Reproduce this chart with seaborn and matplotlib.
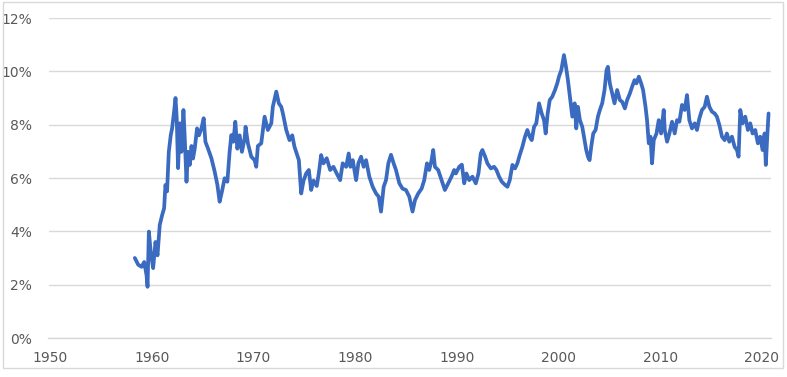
import matplotlib
matplotlib.use("Agg")
import matplotlib.pyplot as plt
import matplotlib.ticker as mticker
from matplotlib.patches import Rectangle
import pandas as pd
import seaborn as sns

# values (decimal year, percent)
years = [
    1958.34, 1958.67, 1959.0, 1959.26, 1959.49, 1959.59, 1959.72, 1959.91, 1960.14, 1960.37,
    1960.57, 1960.79, 1961.02, 1961.22, 1961.35, 1961.51, 1961.68, 1961.87, 1962.0, 1962.2,
    1962.34, 1962.46, 1962.59, 1962.76, 1962.92, 1963.12, 1963.25, 1963.42, 1963.57, 1963.74,
    1963.91, 1964.06, 1964.23, 1964.46, 1964.65, 1964.89, 1965.11, 1965.28, 1965.54, 1965.87,
    1966.19, 1966.46, 1966.68, 1966.91, 1967.17, 1967.44, 1967.66, 1967.83, 1968.03, 1968.22,
    1968.42, 1968.65, 1968.87, 1969.14,
    1969.23, 1969.46, 1969.79, 1970.12, 1970.28, 1970.44, 1970.77, 1971.1, 1971.42, 1971.76,
    1971.91, 1972.25, 1972.5, 1972.74, 1972.9, 1973.23, 1973.55, 1973.82, 1974.04, 1974.27,
    1974.47, 1974.7, 1974.93, 1975.19, 1975.45, 1975.68, 1975.91, 1976.23, 1976.43, 1976.66,
    1976.89, 1977.21, 1977.55, 1977.87, 1978.19, 1978.53, 1978.78, 1979.12, 1979.37,
    1979.54, 1979.77, 1980.1, 1980.32, 1980.59, 1980.84, 1981.08, 1981.4, 1981.73, 1982.06,
    1982.32, 1982.55, 1982.81, 1983.04, 1983.27, 1983.53, 1983.79, 1984.02, 1984.35, 1984.67,
    1985.0, 1985.33, 1985.65, 1985.89, 1986.21, 1986.54, 1986.8, 1987.07, 1987.29, 1987.52,
    1987.68, 1987.85, 1988.17, 1988.5, 1988.83, 1989.16, 1989.48, 1989.74,
    1989.91, 1990.24, 1990.5, 1990.73, 1990.95, 1991.22, 1991.54, 1991.87, 1992.13, 1992.36,
    1992.52, 1992.79, 1993.01, 1993.35, 1993.67, 1993.9, 1994.16, 1994.43, 1994.75, 1994.98,
    1995.21, 1995.47, 1995.73, 1995.96, 1996.19, 1996.45, 1996.71, 1996.94, 1997.17, 1997.37,
    1997.6, 1997.82, 1998.09, 1998.35, 1998.58, 1998.74, 1998.94, 1999.14, 1999.39, 1999.66,
    1999.88, 2000.05,
    2000.28, 2000.54, 2000.74, 2000.93, 2001.2, 2001.36, 2001.59, 2001.75, 2001.91, 2002.11,
    2002.34, 2002.57, 2002.73, 2002.9, 2003.06, 2003.22, 2003.42, 2003.65, 2003.88, 2004.07,
    2004.3, 2004.53, 2004.73, 2004.86, 2005.05, 2005.28, 2005.51, 2005.77, 2006.04, 2006.26,
    2006.53, 2006.75, 2007.02, 2007.24, 2007.48, 2007.67, 2007.9, 2008.13, 2008.32, 2008.56,
    2008.71, 2008.88, 2009.05, 2009.2, 2009.37, 2009.64, 2009.86, 2010.09, 2010.35,
    2010.45, 2010.68, 2010.91, 2011.17, 2011.43, 2011.66, 2011.89, 2012.15, 2012.41, 2012.64,
    2012.87, 2013.13, 2013.4, 2013.62, 2013.86, 2014.11, 2014.38, 2014.6, 2014.84, 2015.09,
    2015.36, 2015.58, 2015.82, 2016.08, 2016.34, 2016.56, 2016.8, 2017.06, 2017.32, 2017.55,
    2017.71, 2017.88, 2018.11, 2018.37, 2018.63, 2018.86, 2019.09, 2019.35, 2019.61, 2019.84,
    2020.07, 2020.27, 2020.39, 2020.53, 2020.66,
]
rates = [
    3.0, 2.75, 2.67, 2.85, 2.36, 1.92, 3.99, 3.2, 2.62, 3.6,
    3.1, 4.24, 4.6, 4.87, 5.74, 5.5, 6.98, 7.6, 7.85, 8.49,
    9.0, 8.25, 6.37, 8.05, 6.98, 8.55, 7.49, 5.86, 6.98, 6.49,
    7.2, 6.73, 7.1, 7.86, 7.6, 7.86, 8.24, 7.36, 7.1, 6.74,
    6.24, 5.74, 5.11, 5.5, 5.99, 5.86, 6.98, 7.61, 7.36, 8.11,
    7.1, 7.6, 6.98, 7.49,
    7.92, 7.3, 6.8, 6.67, 6.42, 7.2, 7.3, 8.3, 7.8, 8.05,
    8.67, 9.24, 8.8, 8.67, 8.42, 7.8, 7.42, 7.6, 7.17, 6.9,
    6.67, 5.42, 5.9, 6.17, 6.3, 5.55, 5.9, 5.7, 6.17, 6.86,
    6.55, 6.74, 6.3, 6.42, 6.17, 5.92, 6.55, 6.42, 6.92,
    6.42, 6.67, 5.92, 6.55, 6.8, 6.42, 6.67, 6.05, 5.67, 5.42,
    5.3, 4.74, 5.67, 5.92, 6.55, 6.87, 6.55, 6.3, 5.8, 5.6,
    5.55, 5.3, 4.74, 5.17, 5.42, 5.6, 5.92, 6.55, 6.3, 6.67,
    7.05, 6.42, 6.3, 5.92, 5.55, 5.8, 6.05, 6.3,
    6.17, 6.42, 6.5, 5.8, 6.17, 5.92, 6.05, 5.8, 6.17, 6.92,
    7.05, 6.8, 6.55, 6.36, 6.42, 6.3, 6.05, 5.86, 5.74, 5.67,
    5.92, 6.49, 6.36, 6.55, 6.86, 7.17, 7.55, 7.8, 7.55, 7.42,
    7.92, 8.05, 8.8, 8.42, 8.17, 7.67, 8.42, 8.92, 9.05, 9.3,
    9.55, 9.8,
    10.05, 10.61, 10.17, 9.67, 8.8, 8.3, 8.8, 7.86, 8.67, 8.17,
    7.92, 7.42, 7.05, 6.8, 6.67, 7.17, 7.67, 7.8, 8.3, 8.55,
    8.8, 9.3, 10.05, 10.17, 9.55, 9.17, 8.8, 9.3, 8.92, 8.86,
    8.61, 8.92, 9.17, 9.42, 9.67, 9.55, 9.8, 9.55, 9.3, 8.67,
    8.17, 7.3, 7.55, 6.55, 7.42, 7.67, 8.17, 7.67, 8.55,
    7.8, 7.36, 7.67, 8.11, 7.67, 8.17, 8.11, 8.74, 8.55, 9.11,
    8.17, 7.86, 8.05, 7.8, 8.24, 8.55, 8.67, 9.05, 8.67, 8.49,
    8.42, 8.3, 7.99, 7.55, 7.42, 7.67, 7.36, 7.55, 7.17, 7.05,
    6.8, 8.55, 8.05, 8.3, 7.8, 8.05, 7.67, 7.8, 7.3, 7.55,
    7.05, 7.67, 6.49, 7.55, 8.42,
]
y_ticks = [0, 2, 4, 6, 8, 10, 12]
x_ticks = [1950, 1960, 1970, 1980, 1990, 2000, 2010, 2020]

df = pd.DataFrame({"year": years, "rate": rates})

sns.set_style("white")
plt.rcParams["font.family"] = ["Liberation Sans Narrow", "DejaVu Sans"]

fig = plt.figure(figsize=(7.87, 3.77), dpi=100)
ax = fig.add_axes([48.5 / 787, 39 / 377, 722.5 / 787, 320 / 377])

sns.lineplot(data=df, x="year", y="rate", ax=ax, color="#3A6BC0", linewidth=2.7)

ax.set_xlim(1949.85, 2020.9)
ax.set_ylim(0, 12)
ax.set_xticks(x_ticks)
ax.set_yticks(y_ticks)
ax.yaxis.set_major_formatter(mticker.FuncFormatter(lambda v, p: f"{v:.0f}%"))
ax.set_xlabel("")
ax.set_ylabel("")

ax.yaxis.grid(True, color="#d9d9d9", linewidth=1)
ax.set_axisbelow(True)
for s in ["top", "right", "left"]:
    ax.spines[s].set_visible(False)
ax.spines["bottom"].set_color("#d9d9d9")
ax.spines["bottom"].set_linewidth(1)
ax.tick_params(axis="x", direction="out", length=5, color="#d9d9d9", width=1,
               labelsize=10, labelcolor="#595959", pad=4)
ax.tick_params(axis="y", length=0, labelsize=10, labelcolor="#595959", pad=12)

# light chart-area border
fig.patches.append(Rectangle((3 / 787, 9 / 377), 780 / 787, 366 / 377, transform=fig.transFigure,
                             fill=False, edgecolor="#d9d9d9", linewidth=1))

fig.savefig("out.png", dpi=100)
